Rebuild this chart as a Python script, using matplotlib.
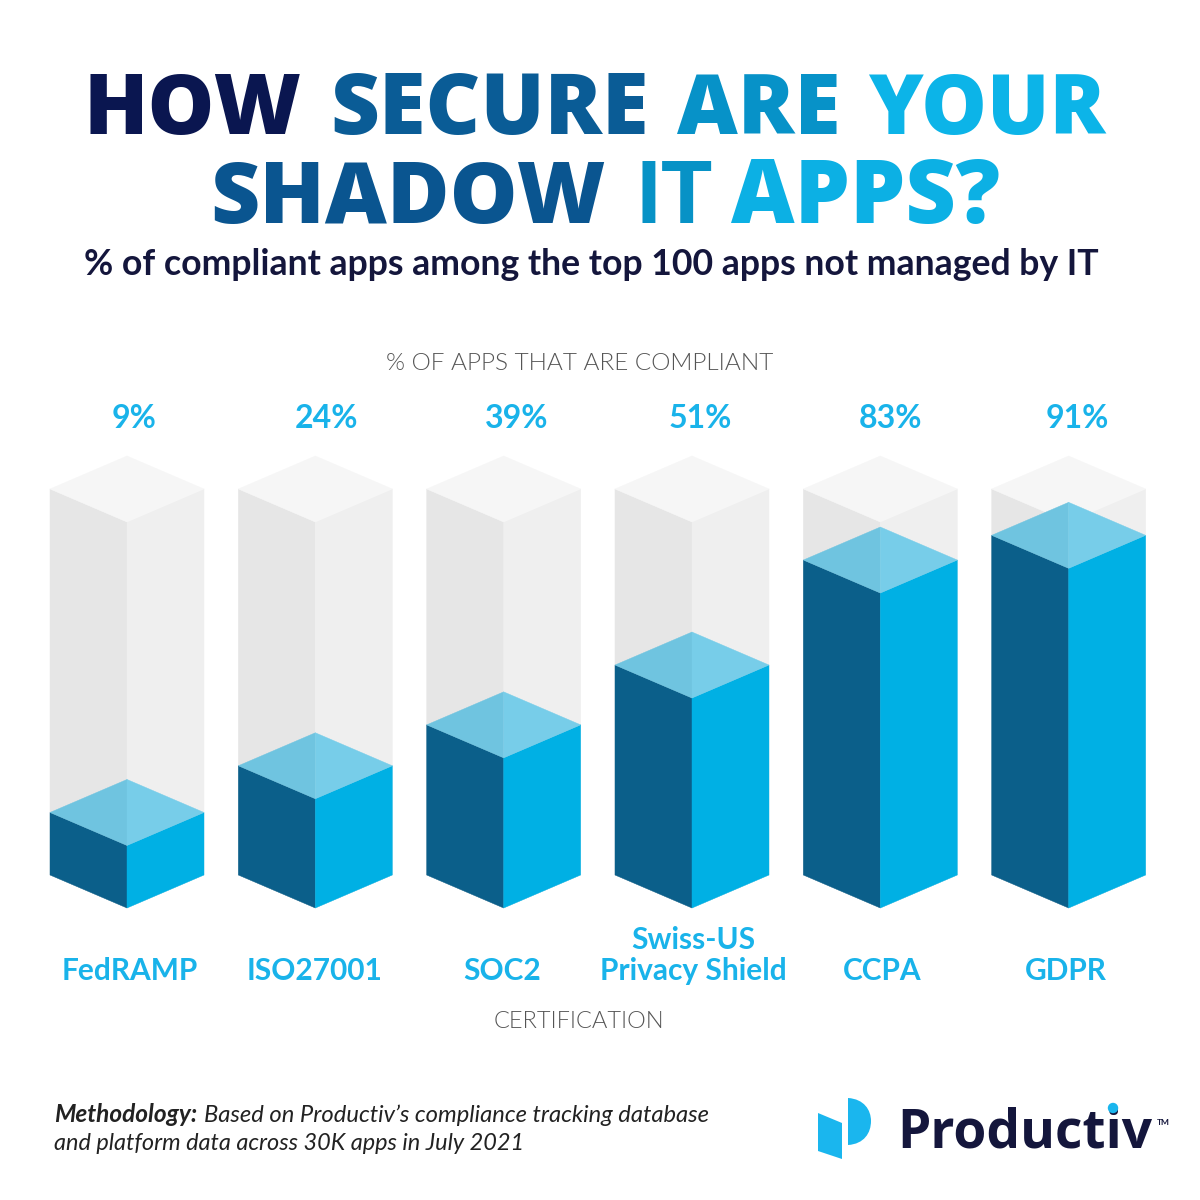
import matplotlib
matplotlib.use("Agg")
import matplotlib.pyplot as plt
from matplotlib.patches import Polygon, PathPatch, Circle
from matplotlib.path import Path
from matplotlib.transforms import Affine2D

# ---- data ----
categories = ["FedRAMP", "ISO27001", "SOC2", "Swiss-US\nPrivacy Shield", "CCPA", "GDPR"]
value_labels = ["9%", "24%", "39%", "51%", "83%", "91%"]
# fill height of each drawn column, as % of the full grey column
drawn_levels = [16.2, 28.3, 38.9, 54.4, 81.6, 88.0]
column_level = 100.0

C_LEFT, C_RIGHT = "#0b5f8a", "#00b0e4"
C_TOP_L, C_TOP_R = "#6fc4e0", "#77cde9"
G_LEFT, G_RIGHT, G_TOP = "#e6e6e6", "#efefef", "#f6f6f6"
CYAN = "#19b3ea"
NAVY = "#14163c"

fig = plt.figure(figsize=(12, 12), dpi=100, facecolor="white")
ax = fig.add_axes([0, 0, 1, 1])
PITCH, X0 = 188.33, 127.0
UNIT, BASE = 3.86, 908.0
ax.set_xlim(-X0 / PITCH, (1200 - X0) / PITCH)
ax.set_ylim((BASE - 1200) / UNIT, BASE / UNIT)
ax.axis("off")

HW = 77 / PITCH      # half width of a column, in category units
DEPTH = 33 / UNIT    # isometric depth, in level units


def face(pts, color, z):
    ax.add_patch(Polygon(pts, fc=color, ec=color, lw=0.3, zorder=z))


def box(i, level, left, right, top_l, top_r, z):
    face([(i - HW, DEPTH), (i, 0), (i, level), (i - HW, level + DEPTH)], left, z)
    face([(i + HW, DEPTH), (i, 0), (i, level), (i + HW, level + DEPTH)], right, z)
    face([(i - HW, level + DEPTH), (i, level), (i, level + 2 * DEPTH)], top_l, z + 0.5)
    face([(i + HW, level + DEPTH), (i, level), (i, level + 2 * DEPTH)], top_r, z + 0.5)


for i, lev in enumerate(drawn_levels):
    box(i, column_level, G_LEFT, G_RIGHT, G_TOP, G_TOP, 1)
    box(i, lev, C_LEFT, C_RIGHT, C_TOP_L, C_TOP_R, 2)

renderer = fig.canvas.get_renderer()


def T(s, x, y, **kw):
    return fig.text(x / 1200, 1 - y / 1200, s, **kw)


def fit(s, x0, x1, y, color, **kw):
    """Text with left edge x0, right edge x1 (pixels), baseline y."""
    t = T(s, x0, y, ha="left", va="baseline", color=color, fontsize=40, **kw)
    w = t.get_window_extent(renderer).width
    t.set_fontsize(40 * (x1 - x0) / w)
    return t


title_kw = dict(family="Open Sans", weight=800)
title_words = [
    ("HOW", 83, 301, 134, "#0a1650"),
    ("SECURE", 330, 648, 134, "#0a5c96"),
    ("ARE", 677, 840, 134, "#0792c8"),
    ("YOUR", 868, 1105, 134, "#0cb4e8"),
    ("SHADOW", 210, 605, 223, "#0a5590"),
    ("APPS?", 731, 1000, 223, "#0cb0e4"),
]
size = None
for w, a, b, y, c in title_words:
    t = fit(w, a, b, y, c, **title_kw)
    if w == "SHADOW":
        size = t.get_fontsize()
T("IT", 636, 223, ha="left", va="baseline", color="#0792c6", fontsize=size,
  family="Lato", weight=900)

fit("% of compliant apps among the top 100 apps not managed by IT",
    84, 1101, 275, NAVY, family="Lato", weight="bold")

fit("% OF APPS THAT ARE COMPLIANT", 386, 774, 370, "#555555", family="Lato", weight=300)
fit("CERTIFICATION", 494, 665, 1028, "#555555", family="Lato", weight=300)

value_x = [134, 326, 517, 700, 890, 1077]
for s, x in zip(value_labels, value_x):
    T(s, x, 428, ha="center", va="baseline", color=CYAN, fontsize=23,
      family="Lato", weight="bold")

cat_x = [130, 315, 502, 693, 882, 1066]
for s, x in zip(categories, cat_x):
    T(s, x, 980, ha="center", va="baseline", color=CYAN, fontsize=21.5,
      family="Lato", weight="bold", linespacing=1.13, multialignment="center")

fit("Methodology:", 54, 197, 1122, "#222222", family="Lato", weight="bold", style="italic")
fit("Based on Productiv’s compliance tracking database", 204, 708, 1122, "#222222",
    family="Lato", style="italic")
fit("and platform data across 30K apps in July 2021", 54, 525, 1150, "#222222",
    family="Lato", style="italic")

# logo
px = Affine2D().scale(1 / 1200, -1 / 1200).translate(0, 1) + fig.transFigure
fig.add_artist(Polygon([(818, 1113), (842, 1123), (842, 1159), (818, 1151)],
                       fc="#1ab6ee", ec="none", transform=px))
d = Path([(848, 1098), (864, 1099), (871, 1110), (871, 1121), (871, 1133), (864, 1144),
          (848, 1145), (848, 1098)],
         [Path.MOVETO, Path.CURVE4, Path.CURVE4, Path.CURVE4, Path.CURVE4, Path.CURVE4,
          Path.CURVE4, Path.CLOSEPOLY])
fig.add_artist(PathPatch(d, fc="#1ab6ee", ec="none", transform=px))
fit("Productiv", 897, 1152, 1148, NAVY, family="Open Sans", weight="bold")
fig.add_artist(Circle((1113, 1108), 5.2, fc="#1ab6ee", ec="none", transform=px, zorder=5))
T("TM", 1157, 1125, ha="left", va="baseline", color=NAVY, fontsize=6, family="Lato", weight="bold")

fig.savefig("out.png", dpi=100, facecolor="white")
